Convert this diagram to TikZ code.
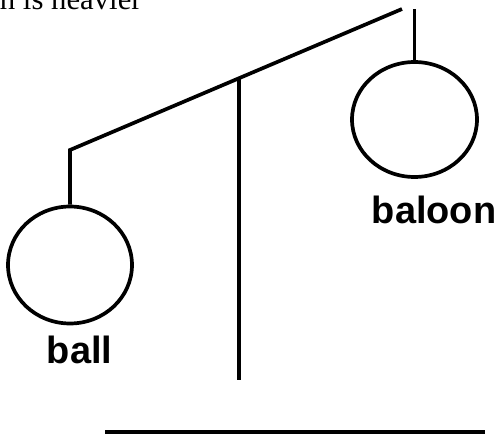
\documentclass[tikz,border=0pt]{standalone}
\usepackage{fontspec}
\setmainfont{Liberation Serif}
\newfontfamily\labelfont{Liberation Sans}
\usepackage{tikz}
\usetikzlibrary{shapes.geometric}

\begin{document}
\begin{tikzpicture}[
  x=0.02cm, y=-0.02cm,
  rod/.style={draw=black, line width=2.1pt},
  weight/.style={ellipse, draw=black, line width=2.1pt, inner sep=0pt},
  weight_lbl/.style={font=\labelfont\fontsize{21.6}{24}\selectfont\bfseries, inner sep=0pt, anchor=base}
]
\useasboundingbox (0,0) rectangle (500,436);
\clip (0,0) rectangle (500,436);

% Question text (cut off at the top)
\node[font=\fontsize{17.5}{20}\selectfont, inner sep=0pt, anchor=base east] (question) at (142,10) {h is heavier};

% Weights
\node[weight, minimum width=2.48cm, minimum height=2.34cm] (ball) at (70,265) {};
\node[weight, minimum width=2.5cm, minimum height=2.3cm] (baloon) at (414.5,119.5) {};

% Beam and hanging points
\coordinate (beamL) at (ball.north |- 0,150);
\coordinate (beamR) at (402,9);
\coordinate (hookR) at (baloon.north |- 0,9);
\draw[rod, line join=miter] (beamR) -- (beamL) -- (ball.north);
\draw[rod] (hookR) -- (baloon.north);

\node[weight_lbl] (ball_lbl) at (79.5,363) {ball};
\node[weight_lbl] (baloon_lbl) at (434,223) {baloon};

% Post and ground
\coordinate (postTop) at (239,77);
\coordinate (postBot) at (239,380);
\draw[rod] (postTop) -- (postBot);
\coordinate (groundL) at (105,432);
\coordinate (groundR) at (485,432);
\draw[rod] (groundL) -- (groundR);

\end{tikzpicture}
\end{document}
